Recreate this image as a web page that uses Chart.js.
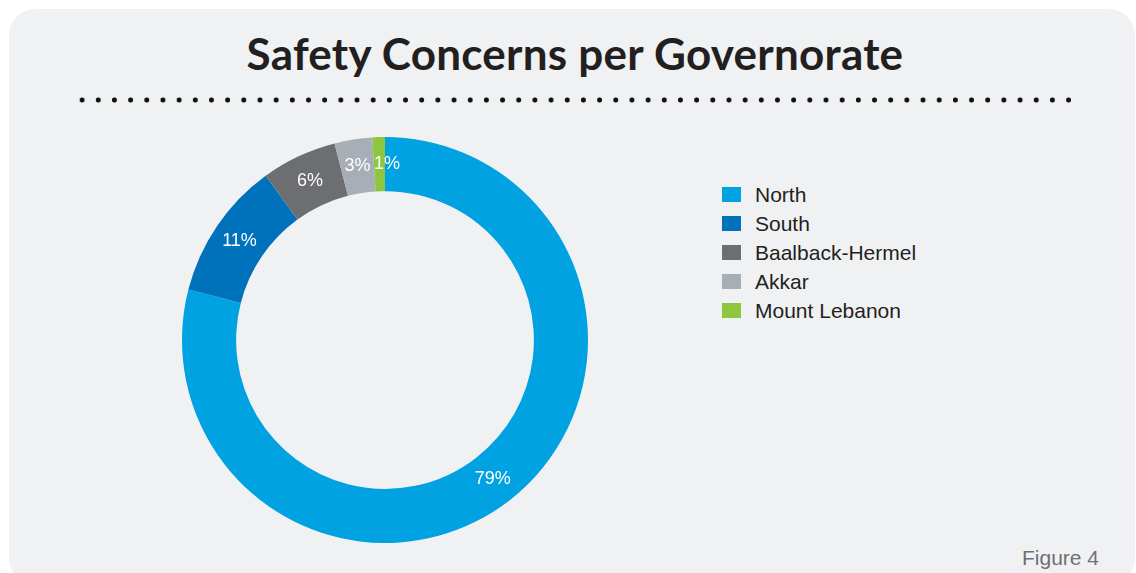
<!DOCTYPE html>
<html>
<head>
<meta charset="utf-8">
<title>Safety Concerns per Governorate</title>
<script src="https://cdn.jsdelivr.net/npm/chart.js@4"></script>
<style>
  html, body { margin: 0; padding: 0; background: #ffffff; }
  body { width: 1136px; height: 573px; position: relative; overflow: hidden; }
  .panel {
    position: absolute; left: 9px; top: 9px; width: 1126px; height: 575px;
    background: #f0f1f3; border-radius: 26px;
  }
  .title {
    position: absolute; left: 0; top: 31px; width: 1150px; text-align: center;
    font-family: Lato, "Open Sans", sans-serif; font-weight: 700; font-size: 44px;
    letter-spacing: 0.25px; line-height: 44px; color: #231f20; white-space: nowrap;
  }
  .dots {
    position: absolute; left: 73.6px; top: 97px; height: 6px; width: 1003.2px;
    background-image: radial-gradient(circle, #111111 2.2px, rgba(17,17,17,0) 2.9px);
    background-size: 16.18px 6px; background-repeat: repeat-x;
  }
  #donut { position: absolute; left: 175px; top: 130px; }
  .legend { position: absolute; left: 722px; top: 186.7px; }
  .legend .row { position: relative; height: 29px; }
  .legend .swatch { position: absolute; left: 0; top: 0; width: 19px; height: 15px; }
  .legend .label {
    position: absolute; left: 33px; top: 0; line-height: 15px; white-space: nowrap;
    font-family: "Liberation Sans", Arial, sans-serif; font-size: 21px; color: #231f20;
  }
  .figure {
    position: absolute; left: 1022px; top: 550.3px; line-height: 15px;
    font-family: "Liberation Sans", Arial, sans-serif; font-size: 21px; color: #6f7073;
  }
</style>
</head>
<body>
<div class="panel"></div>
<div class="title">Safety Concerns per Governorate</div>
<div class="dots"></div>
<canvas id="donut" width="420" height="420"></canvas>
<div class="legend" id="legend"></div>
<div class="figure">Figure 4</div>
<script>
// Share of reported safety concerns, by governorate (percent)
const governorates = ['North', 'South', 'Baalback-Hermel', 'Akkar', 'Mount Lebanon'];
const shares = [79, 11, 6, 3, 1];
const sliceColors = ['#00a2e1', '#0072bb', '#6d6e71', '#a7aeb5', '#8dc63f'];

// Legend rows
const legendBox = document.getElementById('legend');
governorates.forEach((name, i) => {
  const row = document.createElement('div');
  row.className = 'row';
  const sw = document.createElement('div');
  sw.className = 'swatch';
  sw.style.background = sliceColors[i];
  const lb = document.createElement('div');
  lb.className = 'label';
  lb.textContent = name;
  row.appendChild(sw);
  row.appendChild(lb);
  legendBox.appendChild(row);
});

// Percentage labels at each arc's centre point; a label wider than its
// slice is pushed sideways so it does not run into the previous one
const sliceLabels = {
  id: 'sliceLabels',
  afterDatasetsDraw(chart) {
    const ctx = chart.ctx;
    const meta = chart.getDatasetMeta(0);
    const values = chart.data.datasets[0].data;
    ctx.save();
    ctx.fillStyle = '#ffffff';
    ctx.font = '18px "Liberation Sans", Arial, sans-serif';
    ctx.textAlign = 'center';
    ctx.textBaseline = 'middle';
    meta.data.forEach((arc, i) => {
      const p = arc.getCenterPoint();
      const text = values[i] + '%';
      const tw = ctx.measureText(text).width;
      const midR = (arc.innerRadius + arc.outerRadius) / 2;
      const chord = (arc.endAngle - arc.startAngle) * midR;
      let x = p.x;
      if (chord < tw) x += (tw - chord) / 2;
      ctx.fillText(text, x, p.y);
    });
    ctx.restore();
  }
};

new Chart(document.getElementById('donut'), {
  type: 'doughnut',
  data: {
    labels: governorates,
    datasets: [{
      data: shares,
      backgroundColor: sliceColors,
      borderWidth: 0,
      hoverOffset: 0
    }]
  },
  options: {
    responsive: false,
    animation: false,
    events: [],
    radius: 203,
    cutout: 154,
    layout: { padding: 0 },
    plugins: {
      legend: { display: false },
      tooltip: { enabled: false },
      title: { display: false }
    }
  },
  plugins: [sliceLabels]
});
</script>
</body>
</html>
